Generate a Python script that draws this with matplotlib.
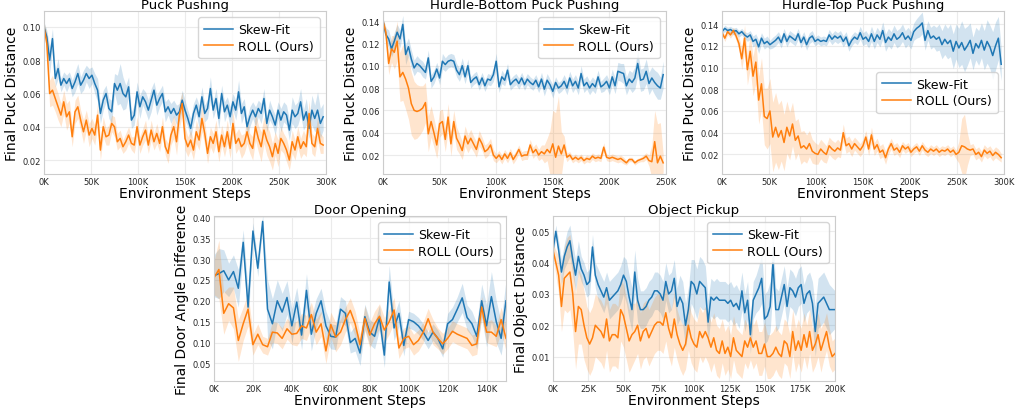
import numpy as np
import matplotlib
matplotlib.use("Agg")
import matplotlib.pyplot as plt
from matplotlib.ticker import FuncFormatter

# ---------------- data ----------------
titles = ["Puck Pushing", "Hurdle-Bottom Puck Pushing", "Hurdle-Top Puck Pushing",
          "Door Opening", "Object Pickup"]
ylabels = ["Final Puck Distance", "Final Puck Distance", "Final Puck Distance",
           "Final Door Angle Difference", "Final Object Distance"]
labels = ["Skew-Fit", "ROLL (Ours)"]

# step between evaluations, in K environment steps
steps_k = [3, 2.5, 3, 2.5, 2]

# Puck Pushing
pp_skew = [0.100, 0.094, 0.080, 0.093, 0.069, 0.075, 0.065, 0.069, 0.066, 0.069,
           0.063, 0.067, 0.072, 0.065, 0.068, 0.072, 0.069, 0.071, 0.066, 0.062,
           0.048, 0.056, 0.060, 0.051, 0.049, 0.066, 0.062, 0.066, 0.060, 0.058,
           0.064, 0.044, 0.047, 0.061, 0.052, 0.058, 0.055, 0.050, 0.056, 0.062,
           0.053, 0.057, 0.060, 0.049, 0.052, 0.048, 0.051, 0.047, 0.049, 0.056,
           0.050, 0.045, 0.039, 0.048, 0.053, 0.046, 0.058, 0.048, 0.051, 0.063,
           0.050, 0.057, 0.045, 0.060, 0.049, 0.053, 0.046, 0.055, 0.050, 0.061,
           0.048, 0.052, 0.040, 0.046, 0.050, 0.046, 0.051, 0.048, 0.057, 0.042,
           0.050, 0.046, 0.041, 0.050, 0.044, 0.049, 0.047, 0.038, 0.050, 0.046,
           0.048, 0.055, 0.044, 0.049, 0.039, 0.050, 0.045, 0.050, 0.042, 0.046]
pp_skew_sd = [0.003, 0.004, 0.008, 0.006, 0.005, 0.006, 0.004, 0.004, 0.005, 0.004,
              0.005, 0.006, 0.006, 0.005, 0.006, 0.005, 0.006, 0.005, 0.006, 0.007,
              0.006, 0.006, 0.005, 0.006, 0.007, 0.006, 0.009, 0.012, 0.010, 0.007,
              0.006, 0.005, 0.006, 0.006, 0.007, 0.005, 0.006, 0.006, 0.007, 0.005,
              0.006, 0.005, 0.005, 0.006, 0.005, 0.006, 0.005, 0.006, 0.005, 0.006,
              0.006, 0.005, 0.006, 0.006, 0.005, 0.007, 0.006, 0.005, 0.006, 0.007,
              0.005, 0.006, 0.006, 0.005, 0.006, 0.005, 0.006, 0.005, 0.006, 0.007,
              0.006, 0.005, 0.005, 0.006, 0.005, 0.006, 0.005, 0.006, 0.006, 0.005,
              0.006, 0.005, 0.006, 0.005, 0.007, 0.006, 0.006, 0.006, 0.008, 0.007,
              0.007, 0.008, 0.006, 0.008, 0.006, 0.009, 0.008, 0.011, 0.009, 0.008]
pp_roll = [0.100, 0.090, 0.060, 0.062, 0.057, 0.052, 0.047, 0.055, 0.046, 0.049,
           0.034, 0.049, 0.052, 0.044, 0.037, 0.044, 0.035, 0.039, 0.035, 0.047,
           0.026, 0.040, 0.034, 0.035, 0.042, 0.040, 0.031, 0.033, 0.028, 0.031,
           0.035, 0.030, 0.029, 0.040, 0.029, 0.034, 0.038, 0.029, 0.038, 0.031,
           0.036, 0.030, 0.040, 0.028, 0.024, 0.035, 0.040, 0.031, 0.047, 0.054,
           0.033, 0.028, 0.032, 0.026, 0.037, 0.032, 0.045, 0.036, 0.024, 0.034,
           0.030, 0.037, 0.025, 0.035, 0.028, 0.037, 0.027, 0.042, 0.030, 0.033,
           0.028, 0.030, 0.037, 0.030, 0.027, 0.040, 0.033, 0.028, 0.038, 0.032,
           0.028, 0.022, 0.030, 0.024, 0.033, 0.030, 0.026, 0.020, 0.031, 0.026,
           0.034, 0.027, 0.031, 0.028, 0.048, 0.030, 0.028, 0.039, 0.030, 0.029]
pp_roll_sd = [0.003, 0.006, 0.008, 0.009, 0.008, 0.008, 0.007, 0.007, 0.008, 0.007,
              0.006, 0.007, 0.007, 0.006, 0.007, 0.006, 0.007, 0.006, 0.006, 0.007,
              0.006, 0.006, 0.005, 0.006, 0.005, 0.006, 0.005, 0.005, 0.004, 0.005,
              0.005, 0.004, 0.005, 0.006, 0.005, 0.005, 0.006, 0.005, 0.006, 0.005,
              0.006, 0.005, 0.006, 0.005, 0.006, 0.006, 0.007, 0.008, 0.008, 0.007,
              0.007, 0.006, 0.006, 0.006, 0.007, 0.006, 0.008, 0.007, 0.006, 0.006,
              0.006, 0.007, 0.006, 0.006, 0.006, 0.007, 0.006, 0.007, 0.006, 0.006,
              0.007, 0.006, 0.007, 0.006, 0.007, 0.008, 0.008, 0.009, 0.008, 0.009,
              0.009, 0.008, 0.007, 0.008, 0.007, 0.006, 0.007, 0.006, 0.007, 0.006,
              0.006, 0.006, 0.007, 0.006, 0.008, 0.006, 0.006, 0.007, 0.006, 0.005]

# Hurdle-Bottom Puck Pushing
hb_skew = [0.140, 0.128, 0.124, 0.115, 0.122, 0.130, 0.124, 0.137, 0.110, 0.117,
           0.106, 0.098, 0.102, 0.100, 0.097, 0.094, 0.107, 0.086, 0.090, 0.097,
           0.089, 0.104, 0.101, 0.104, 0.105, 0.104, 0.096, 0.092, 0.100, 0.090,
           0.100, 0.085, 0.088, 0.090, 0.083, 0.089, 0.082, 0.088, 0.087, 0.092,
           0.104, 0.081, 0.090, 0.087, 0.096, 0.083, 0.086, 0.088, 0.084, 0.089,
           0.083, 0.088, 0.085, 0.083, 0.087, 0.081, 0.088, 0.079, 0.087, 0.083,
           0.077, 0.085, 0.080, 0.082, 0.086, 0.080, 0.089, 0.082, 0.086, 0.080,
           0.093, 0.082, 0.085, 0.080, 0.084, 0.081, 0.090, 0.081, 0.083, 0.086,
           0.080, 0.090, 0.082, 0.095, 0.094, 0.093, 0.082, 0.088, 0.085, 0.089,
           0.102, 0.087, 0.088, 0.095, 0.084, 0.089, 0.085, 0.082, 0.080, 0.092]
hb_skew_sd = [0.003, 0.006, 0.008, 0.007, 0.008, 0.007, 0.008, 0.008, 0.009, 0.008,
              0.008, 0.007, 0.007, 0.006, 0.007, 0.006, 0.007, 0.006, 0.006, 0.006,
              0.006, 0.007, 0.006, 0.006, 0.006, 0.006, 0.006, 0.006, 0.007, 0.006,
              0.006, 0.005, 0.005, 0.005, 0.005, 0.005, 0.005, 0.005, 0.005, 0.006,
              0.007, 0.005, 0.006, 0.005, 0.006, 0.005, 0.005, 0.005, 0.005, 0.005,
              0.005, 0.005, 0.005, 0.005, 0.005, 0.005, 0.006, 0.006, 0.006, 0.005,
              0.006, 0.005, 0.005, 0.005, 0.006, 0.006, 0.006, 0.006, 0.006, 0.006,
              0.007, 0.006, 0.006, 0.006, 0.006, 0.006, 0.006, 0.005, 0.006, 0.006,
              0.006, 0.007, 0.007, 0.008, 0.008, 0.009, 0.008, 0.008, 0.009, 0.010,
              0.011, 0.010, 0.010, 0.011, 0.010, 0.010, 0.011, 0.012, 0.010, 0.012]
hb_roll = [0.140, 0.130, 0.102, 0.115, 0.112, 0.122, 0.090, 0.094, 0.088, 0.080,
           0.066, 0.060, 0.059, 0.060, 0.062, 0.067, 0.039, 0.050, 0.040, 0.029,
           0.048, 0.050, 0.034, 0.054, 0.030, 0.050, 0.035, 0.030, 0.024, 0.037,
           0.030, 0.035, 0.030, 0.025, 0.035, 0.030, 0.023, 0.025, 0.029, 0.020,
           0.017, 0.020, 0.016, 0.021, 0.017, 0.022, 0.016, 0.020, 0.025, 0.019,
           0.020, 0.020, 0.029, 0.022, 0.025, 0.020, 0.023, 0.021, 0.025, 0.022,
           0.030, 0.018, 0.028, 0.021, 0.029, 0.018, 0.020, 0.016, 0.018, 0.016,
           0.018, 0.015, 0.017, 0.016, 0.019, 0.017, 0.018, 0.017, 0.027, 0.018,
           0.017, 0.018, 0.017, 0.016, 0.017, 0.015, 0.013, 0.016, 0.016, 0.013,
           0.015, 0.016, 0.017, 0.019, 0.015, 0.014, 0.032, 0.013, 0.019, 0.013]
hb_roll_sd = [0.002, 0.005, 0.010, 0.012, 0.015, 0.018, 0.022, 0.025, 0.027, 0.028,
              0.028, 0.026, 0.024, 0.022, 0.020, 0.018, 0.016, 0.014, 0.013, 0.012,
              0.012, 0.011, 0.011, 0.012, 0.011, 0.010, 0.010, 0.009, 0.008, 0.009,
              0.008, 0.008, 0.007, 0.007, 0.007, 0.006, 0.006, 0.006, 0.006, 0.005,
              0.004, 0.004, 0.004, 0.004, 0.004, 0.004, 0.004, 0.004, 0.004, 0.004,
              0.004, 0.004, 0.005, 0.005, 0.005, 0.005, 0.006, 0.008, 0.010, 0.020,
              0.030, 0.040, 0.045, 0.020, 0.008, 0.004, 0.003, 0.003, 0.003, 0.003,
              0.003, 0.003, 0.003, 0.003, 0.003, 0.003, 0.003, 0.003, 0.004, 0.003,
              0.003, 0.003, 0.003, 0.003, 0.003, 0.003, 0.002, 0.002, 0.002, 0.002,
              0.002, 0.002, 0.003, 0.003, 0.005, 0.015, 0.028, 0.035, 0.030, 0.008]

# Hurdle-Top Puck Pushing
ht_skew = [0.133, 0.136, 0.134, 0.135, 0.133, 0.134, 0.131, 0.133, 0.130, 0.128,
           0.130, 0.124, 0.126, 0.119, 0.127, 0.122, 0.124, 0.121, 0.123, 0.125,
           0.128, 0.123, 0.131, 0.124, 0.129, 0.127, 0.125, 0.131, 0.123, 0.128,
           0.121, 0.127, 0.129, 0.124, 0.126, 0.124, 0.125, 0.124, 0.130, 0.126,
           0.129, 0.127, 0.129, 0.124, 0.128, 0.120, 0.125, 0.128, 0.126, 0.132,
           0.126, 0.128, 0.124, 0.131, 0.124, 0.130, 0.126, 0.134, 0.123, 0.128,
           0.125, 0.131, 0.126, 0.128, 0.132, 0.126, 0.129, 0.125, 0.133, 0.136,
           0.138, 0.141, 0.125, 0.134, 0.127, 0.129, 0.126, 0.128, 0.121, 0.126,
           0.122, 0.125, 0.115, 0.124, 0.118, 0.123, 0.116, 0.120, 0.125, 0.113,
           0.122, 0.118, 0.125, 0.116, 0.124, 0.119, 0.111, 0.120, 0.127, 0.103]
ht_skew_sd = [0.002, 0.003, 0.003, 0.003, 0.003, 0.003, 0.003, 0.003, 0.003, 0.004,
              0.004, 0.005, 0.005, 0.006, 0.005, 0.005, 0.005, 0.004, 0.005, 0.005,
              0.005, 0.005, 0.005, 0.005, 0.005, 0.005, 0.005, 0.005, 0.005, 0.005,
              0.005, 0.005, 0.005, 0.004, 0.004, 0.004, 0.004, 0.004, 0.005, 0.005,
              0.005, 0.005, 0.005, 0.005, 0.005, 0.005, 0.005, 0.005, 0.005, 0.006,
              0.006, 0.006, 0.006, 0.007, 0.007, 0.007, 0.007, 0.008, 0.008, 0.008,
              0.008, 0.008, 0.008, 0.008, 0.008, 0.008, 0.008, 0.008, 0.008, 0.009,
              0.010, 0.010, 0.009, 0.009, 0.010, 0.010, 0.011, 0.012, 0.013, 0.014,
              0.014, 0.015, 0.016, 0.016, 0.018, 0.020, 0.020, 0.018, 0.016, 0.015,
              0.015, 0.016, 0.016, 0.018, 0.020, 0.020, 0.022, 0.022, 0.020, 0.015]
ht_roll = [0.132, 0.127, 0.133, 0.130, 0.134, 0.129, 0.122, 0.108, 0.127, 0.098,
           0.115, 0.092, 0.105, 0.070, 0.085, 0.055, 0.053, 0.060, 0.036, 0.045,
           0.036, 0.042, 0.031, 0.045, 0.037, 0.048, 0.033, 0.037, 0.026, 0.028,
           0.025, 0.030, 0.023, 0.021, 0.020, 0.025, 0.022, 0.020, 0.028, 0.025,
           0.023, 0.026, 0.024, 0.040, 0.028, 0.030, 0.025, 0.030, 0.027, 0.024,
           0.028, 0.036, 0.025, 0.038, 0.025, 0.029, 0.022, 0.024, 0.017, 0.025,
           0.030, 0.024, 0.026, 0.022, 0.028, 0.025, 0.027, 0.022, 0.025, 0.027,
           0.023, 0.028, 0.024, 0.022, 0.025, 0.023, 0.025, 0.022, 0.024, 0.023,
           0.025, 0.022, 0.024, 0.020, 0.022, 0.028, 0.027, 0.025, 0.024, 0.025,
           0.020, 0.022, 0.018, 0.024, 0.021, 0.023, 0.019, 0.022, 0.020, 0.017]
ht_roll_sd = [0.002, 0.003, 0.003, 0.003, 0.003, 0.004, 0.006, 0.010, 0.012, 0.014,
              0.016, 0.018, 0.020, 0.022, 0.024, 0.026, 0.028, 0.030, 0.032, 0.032,
              0.030, 0.028, 0.026, 0.024, 0.022, 0.020, 0.018, 0.016, 0.015, 0.014,
              0.013, 0.012, 0.011, 0.010, 0.009, 0.009, 0.009, 0.008, 0.008, 0.008,
              0.008, 0.008, 0.007, 0.008, 0.007, 0.007, 0.007, 0.006, 0.006, 0.006,
              0.006, 0.006, 0.006, 0.007, 0.006, 0.006, 0.006, 0.006, 0.006, 0.005,
              0.005, 0.005, 0.005, 0.005, 0.004, 0.004, 0.004, 0.004, 0.004, 0.004,
              0.004, 0.004, 0.004, 0.004, 0.004, 0.004, 0.004, 0.004, 0.004, 0.004,
              0.004, 0.004, 0.004, 0.004, 0.010, 0.025, 0.030, 0.015, 0.005, 0.005,
              0.005, 0.005, 0.005, 0.005, 0.005, 0.005, 0.005, 0.005, 0.005, 0.004]

# Door Opening
do_skew = [0.260, 0.265, 0.272, 0.250, 0.270, 0.230, 0.340, 0.185, 0.367, 0.278,
           0.390, 0.180, 0.145, 0.200, 0.173, 0.208, 0.140, 0.197, 0.118, 0.225,
           0.120, 0.170, 0.200, 0.140, 0.115, 0.113, 0.180, 0.170, 0.100, 0.110,
           0.075, 0.162, 0.125, 0.115, 0.160, 0.070, 0.245, 0.135, 0.170, 0.093,
           0.155, 0.150, 0.140, 0.125, 0.105, 0.125, 0.110, 0.085, 0.145, 0.155,
           0.180, 0.207, 0.160, 0.145, 0.115, 0.200, 0.140, 0.210, 0.150, 0.110,
           0.200]
do_skew_sd = [0.050, 0.060, 0.050, 0.040, 0.040, 0.045, 0.030, 0.040, 0.020, 0.020,
              0.015, 0.070, 0.060, 0.050, 0.045, 0.040, 0.040, 0.035, 0.035, 0.040,
              0.040, 0.035, 0.030, 0.035, 0.030, 0.030, 0.030, 0.030, 0.025, 0.030,
              0.030, 0.030, 0.030, 0.030, 0.030, 0.030, 0.040, 0.030, 0.030, 0.025,
              0.020, 0.020, 0.020, 0.020, 0.020, 0.020, 0.020, 0.020, 0.025, 0.030,
              0.030, 0.035, 0.030, 0.030, 0.030, 0.040, 0.050, 0.060, 0.050, 0.040,
              0.050]
do_roll = [0.255, 0.275, 0.170, 0.193, 0.183, 0.105, 0.145, 0.180, 0.095, 0.120,
           0.095, 0.090, 0.125, 0.123, 0.110, 0.133, 0.120, 0.122, 0.140, 0.135,
           0.167, 0.125, 0.145, 0.080, 0.143, 0.113, 0.125, 0.155, 0.177, 0.145,
           0.095, 0.158, 0.118, 0.145, 0.163, 0.130, 0.150, 0.178, 0.087, 0.110,
           0.115, 0.095, 0.105, 0.125, 0.157, 0.125, 0.110, 0.097, 0.110, 0.127,
           0.120, 0.115, 0.110, 0.093, 0.097, 0.185, 0.125, 0.125, 0.115, 0.155,
           0.110]
do_roll_sd = [0.040, 0.070, 0.050, 0.040, 0.050, 0.050, 0.040, 0.040, 0.025, 0.025,
              0.020, 0.020, 0.025, 0.025, 0.025, 0.025, 0.025, 0.030, 0.030, 0.030,
              0.030, 0.030, 0.030, 0.030, 0.030, 0.035, 0.030, 0.030, 0.030, 0.030,
              0.025, 0.030, 0.030, 0.030, 0.030, 0.030, 0.030, 0.030, 0.025, 0.025,
              0.025, 0.025, 0.025, 0.025, 0.025, 0.030, 0.025, 0.025, 0.025, 0.025,
              0.025, 0.025, 0.025, 0.025, 0.025, 0.025, 0.025, 0.030, 0.025, 0.030,
              0.030]

# Object Pickup
op_skew = [0.044, 0.050, 0.044, 0.037, 0.042, 0.045, 0.047, 0.041, 0.036, 0.042,
           0.038, 0.036, 0.033, 0.034, 0.045, 0.036, 0.033, 0.031, 0.029, 0.032,
           0.028, 0.029, 0.030, 0.031, 0.033, 0.036, 0.034, 0.029, 0.025, 0.037,
           0.028, 0.025, 0.025, 0.026, 0.028, 0.029, 0.031, 0.031, 0.030, 0.028,
           0.034, 0.030, 0.031, 0.035, 0.026, 0.029, 0.027, 0.020, 0.025, 0.034,
           0.033, 0.030, 0.034, 0.033, 0.032, 0.021, 0.029, 0.028, 0.029, 0.028,
           0.028, 0.028, 0.027, 0.028, 0.026, 0.027, 0.025, 0.031, 0.024, 0.028,
           0.017, 0.028, 0.030, 0.032, 0.035, 0.022, 0.023, 0.026, 0.040, 0.025,
           0.025, 0.029, 0.033, 0.026, 0.032, 0.031, 0.029, 0.032, 0.033, 0.027,
           0.030, 0.031, 0.027, 0.018, 0.027, 0.028, 0.029, 0.027, 0.025, 0.025,
           0.025]
op_skew_sd = [0.002, 0.002, 0.003, 0.004, 0.004, 0.005, 0.005, 0.005, 0.005, 0.005,
              0.004, 0.004, 0.004, 0.004, 0.004, 0.004, 0.005, 0.005, 0.005, 0.005,
              0.006, 0.006, 0.006, 0.006, 0.006, 0.006, 0.007, 0.007, 0.007, 0.007,
              0.007, 0.006, 0.006, 0.006, 0.006, 0.006, 0.006, 0.006, 0.006, 0.006,
              0.006, 0.006, 0.006, 0.006, 0.006, 0.007, 0.007, 0.007, 0.007, 0.007,
              0.008, 0.008, 0.008, 0.008, 0.007, 0.007, 0.006, 0.006, 0.006, 0.006,
              0.006, 0.006, 0.006, 0.006, 0.006, 0.006, 0.006, 0.006, 0.006, 0.006,
              0.006, 0.006, 0.006, 0.007, 0.008, 0.008, 0.008, 0.008, 0.008, 0.007,
              0.006, 0.006, 0.006, 0.006, 0.006, 0.006, 0.006, 0.006, 0.006, 0.006,
              0.006, 0.006, 0.007, 0.008, 0.008, 0.008, 0.008, 0.008, 0.008, 0.007,
              0.006]
op_roll = [0.044, 0.040, 0.036, 0.026, 0.035, 0.036, 0.037, 0.030, 0.018, 0.026,
           0.025, 0.020, 0.016, 0.014, 0.016, 0.020, 0.019, 0.018, 0.016, 0.022,
           0.015, 0.017, 0.017, 0.016, 0.025, 0.023, 0.019, 0.015, 0.017, 0.018,
           0.020, 0.015, 0.018, 0.019, 0.016, 0.018, 0.020, 0.021, 0.021, 0.020,
           0.024, 0.019, 0.016, 0.022, 0.017, 0.014, 0.012, 0.014, 0.020, 0.016,
           0.014, 0.013, 0.018, 0.016, 0.018, 0.016, 0.013, 0.016, 0.012, 0.011,
           0.015, 0.011, 0.013, 0.010, 0.016, 0.012, 0.011, 0.010, 0.015, 0.013,
           0.016, 0.013, 0.015, 0.011, 0.011, 0.014, 0.010, 0.010, 0.011, 0.013,
           0.011, 0.010, 0.015, 0.014, 0.010, 0.018, 0.012, 0.015, 0.012, 0.017,
           0.013, 0.018, 0.012, 0.014, 0.017, 0.012, 0.015, 0.018, 0.013, 0.010,
           0.011]
op_roll_sd = [0.002, 0.004, 0.006, 0.008, 0.010, 0.012, 0.012, 0.012, 0.012, 0.012,
              0.011, 0.011, 0.010, 0.010, 0.010, 0.010, 0.010, 0.010, 0.010, 0.010,
              0.010, 0.010, 0.010, 0.010, 0.010, 0.010, 0.010, 0.010, 0.010, 0.009,
              0.009, 0.009, 0.009, 0.009, 0.009, 0.009, 0.009, 0.009, 0.009, 0.009,
              0.009, 0.009, 0.009, 0.009, 0.008, 0.008, 0.008, 0.008, 0.008, 0.008,
              0.008, 0.008, 0.008, 0.008, 0.008, 0.008, 0.008, 0.008, 0.008, 0.008,
              0.007, 0.007, 0.007, 0.007, 0.007, 0.007, 0.007, 0.007, 0.007, 0.007,
              0.007, 0.007, 0.007, 0.007, 0.007, 0.007, 0.007, 0.007, 0.007, 0.007,
              0.007, 0.007, 0.007, 0.007, 0.007, 0.007, 0.007, 0.007, 0.007, 0.007,
              0.007, 0.007, 0.007, 0.007, 0.007, 0.007, 0.006, 0.006, 0.006, 0.005,
              0.005]

skew_means = [pp_skew, hb_skew, ht_skew, do_skew, op_skew]
skew_sds = [pp_skew_sd, hb_skew_sd, ht_skew_sd, do_skew_sd, op_skew_sd]
roll_means = [pp_roll, hb_roll, ht_roll, do_roll, op_roll]
roll_sds = [pp_roll_sd, hb_roll_sd, ht_roll_sd, do_roll_sd, op_roll_sd]

xmax_k = [300, 250, 300, 150, 200]
xtick_step_k = [50, 50, 50, 20, 25]
yticks = [[0.02, 0.04, 0.06, 0.08, 0.10],
          [0.02, 0.04, 0.06, 0.08, 0.10, 0.12, 0.14],
          [0.02, 0.04, 0.06, 0.08, 0.10, 0.12, 0.14],
          [0.05, 0.10, 0.15, 0.20, 0.25, 0.30, 0.35, 0.40],
          [0.01, 0.02, 0.03, 0.04, 0.05]]
ylims = [(0.0116, 0.1096), (0.003, 0.149), (0.002, 0.152), (0.008, 0.403), (0.0022, 0.0549)]
legend_locs = ["upper right", "upper right", "center right", "upper right", "upper right"]

# axes boxes in pixels: left, top, right, bottom
boxes = [(44, 12, 326, 175), (383, 12, 666, 175), (722, 12, 1004, 175),
         (214, 217, 506, 382), (553, 217, 835, 382)]

W, H = 1016, 410
BLUE = "#1f77b4"
ORANGE = "#ff7f0e"

plt.rcParams["font.family"] = "DejaVu Sans"

fig = plt.figure(figsize=(W / 100, H / 100), dpi=100)

for i in range(5):
    x0, y0, x1, y1 = boxes[i]
    ax = fig.add_axes([x0 / W, 1 - y1 / H, (x1 - x0) / W, (y1 - y0) / H])

    for mean, sd, color, label in [(skew_means[i], skew_sds[i], BLUE, labels[0]),
                                   (roll_means[i], roll_sds[i], ORANGE, labels[1])]:
        mean = np.array(mean)
        sd = np.array(sd)
        x = np.arange(len(mean)) * steps_k[i] * 1000
        ax.fill_between(x, mean - sd, mean + sd, color=color, alpha=0.2, linewidth=0)
        ax.plot(x, mean, color=color, lw=1.1, label=label)

    ax.set_xlim(0, xmax_k[i] * 1000)
    ax.set_ylim(*ylims[i])
    ax.set_xticks(np.arange(0, xmax_k[i] + 1, xtick_step_k[i]) * 1000)
    ax.xaxis.set_major_formatter(FuncFormatter(lambda v, p: f"{int(round(v / 1000))}K"))
    ax.set_yticks(yticks[i])
    ax.yaxis.set_major_formatter(FuncFormatter(lambda v, p: f"{v:.2f}"))

    ax.grid(True, color="#ebebeb", lw=0.8)
    ax.set_axisbelow(True)
    for s in ax.spines.values():
        s.set_color("#cccccc")
        s.set_linewidth(0.8)
    ax.tick_params(length=0, labelsize=6, pad=2.5, colors="#262626")

    ax.set_title(titles[i], fontsize=9.5, pad=2)
    ax.set_xlabel("Environment Steps", fontsize=10, labelpad=0)
    ax.set_ylabel(ylabels[i], fontsize=10, labelpad=2)

    ax.legend(loc=legend_locs[i], fontsize=9, handlelength=2.3, handletextpad=0.45,
              labelspacing=0.3, borderpad=0.45,
              edgecolor="#cccccc", framealpha=0.8)

fig.savefig("out.png", dpi=100)
